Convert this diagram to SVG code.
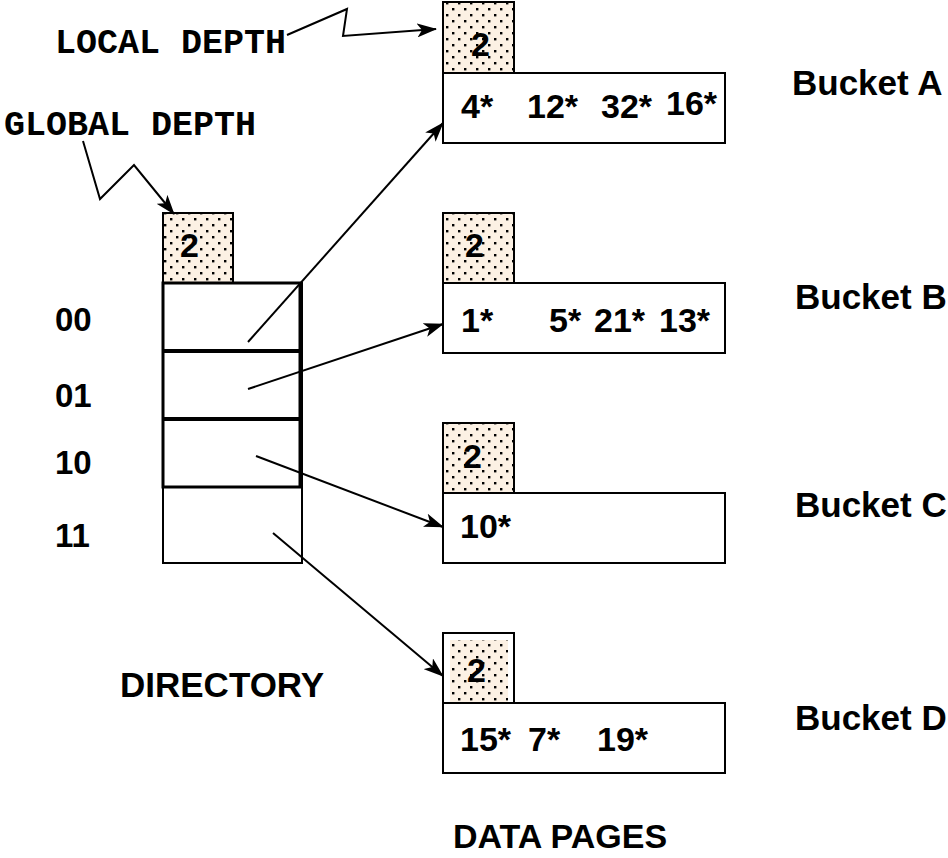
<svg xmlns="http://www.w3.org/2000/svg" width="948" height="858" viewBox="0 0 948 858">
<style>
.box{fill:none;stroke:#000;stroke-width:2}
.depth{fill:url(#dots);stroke:#000;stroke-width:2}
.hv{font-family:"Liberation Sans",Arial,sans-serif;font-weight:bold;fill:#000}
.mono{font-family:"Liberation Mono","Courier New",monospace;font-weight:bold;font-size:35px;fill:#000}
.conn{fill:none;stroke:#000;stroke-width:2}
</style>
<defs>
<pattern id="dots" x="0" y="0" width="12" height="12" patternUnits="userSpaceOnUse">
<rect width="12" height="12" fill="#fcf1e4"/>
<rect x="2" y="2" width="2.4" height="2.4" fill="#000"/>
<rect x="8" y="8" width="2.4" height="2.4" fill="#000"/>
</pattern>
<marker id="arr" viewBox="0 0 20 14" refX="19" refY="7" markerWidth="20" markerHeight="14" markerUnits="userSpaceOnUse" orient="auto">
<path d="M0,0 L20,7 L0,14 L5,7 z" fill="#000"/>
</marker>
</defs>
<rect width="948" height="858" fill="#fff"/>

<g id="labels">
<text class="mono" x="55" y="53">LOCAL DEPTH</text>
<text class="mono" x="4" y="135">GLOBAL DEPTH</text>
<text class="hv" x="55" y="331" font-size="33">00</text>
<text class="hv" x="55" y="407" font-size="33">01</text>
<text class="hv" x="55" y="474" font-size="33">10</text>
<text class="hv" x="55" y="547" font-size="33">11</text>
<text class="hv" x="120" y="697" font-size="35">DIRECTORY</text>
<text class="hv" x="453" y="848" font-size="34">DATA PAGES</text>
</g>

<g id="directory">
<rect class="depth" x="163" y="213" width="70" height="70"/>
<text class="hv" x="180" y="257" font-size="34">2</text>
<rect class="box" x="163" y="283" width="139" height="280"/>
<rect x="163" y="283" width="137" height="204" fill="none" stroke="#000" stroke-width="3"/>
<line x1="163" y1="351" x2="300" y2="351" stroke="#000" stroke-width="4"/>
<line x1="163" y1="419" x2="300" y2="419" stroke="#000" stroke-width="4"/>
</g>

<g id="bucketA">
<rect class="depth" x="443" y="2" width="71" height="71"/>
<text class="hv" x="471" y="56" font-size="34">2</text>
<rect class="box" x="443" y="73" width="282" height="70"/>
<text class="hv" x="461" y="118" font-size="34">4*</text>
<text class="hv" x="527" y="118" font-size="34">12*</text>
<text class="hv" x="601" y="118" font-size="34">32*</text>
<text class="hv" x="666" y="115" font-size="34">16*</text>
<text class="hv" x="792" y="95" font-size="35">Bucket A</text>
</g>

<g id="bucketB">
<rect class="depth" x="443" y="213" width="71" height="70"/>
<text class="hv" x="465" y="257" font-size="34">2</text>
<rect class="box" x="443" y="283" width="282" height="70"/>
<text class="hv" x="461" y="332" font-size="34">1*</text>
<text class="hv" x="549" y="332" font-size="34">5*</text>
<text class="hv" x="594" y="332" font-size="34">21*</text>
<text class="hv" x="659" y="332" font-size="34">13*</text>
<text class="hv" x="795" y="309" font-size="35">Bucket B</text>
</g>

<g id="bucketC">
<rect class="depth" x="443" y="423" width="71" height="70"/>
<text class="hv" x="463" y="468" font-size="34">2</text>
<rect class="box" x="443" y="493" width="282" height="70"/>
<text class="hv" x="460" y="538" font-size="34">10*</text>
<text class="hv" x="795" y="517" font-size="35">Bucket C</text>
</g>

<g id="bucketD">
<rect x="443" y="633" width="71" height="70" fill="#fff" stroke="#000" stroke-width="2"/>
<rect x="450" y="640" width="58" height="62" fill="url(#dots)"/>
<text class="hv" x="467" y="682" font-size="34">2</text>
<rect class="box" x="443" y="703" width="282" height="70"/>
<text class="hv" x="460" y="751" font-size="34">15*</text>
<text class="hv" x="528" y="751" font-size="34">7*</text>
<text class="hv" x="597" y="751" font-size="34">19*</text>
<text class="hv" x="795" y="730" font-size="35">Bucket D</text>
</g>

<g id="connectors">
<polyline class="conn" points="287,35 347,9 343,36 436,29" marker-end="url(#arr)"/>
<polyline class="conn" points="83,141 100,199 134,165 174,214" marker-end="url(#arr)"/>
<line class="conn" x1="248" y1="342" x2="443" y2="123" marker-end="url(#arr)"/>
<line class="conn" x1="248" y1="389" x2="443" y2="324" marker-end="url(#arr)"/>
<line class="conn" x1="256" y1="456" x2="443" y2="527" marker-end="url(#arr)"/>
<line class="conn" x1="273" y1="533" x2="443" y2="676" marker-end="url(#arr)"/>
</g>
</svg>
